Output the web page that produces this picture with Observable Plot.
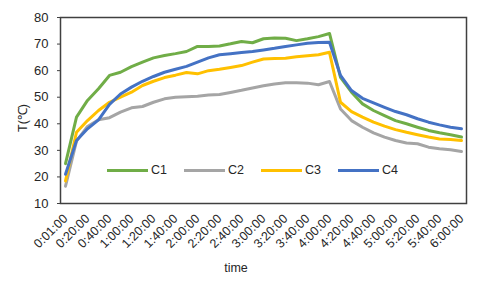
<!DOCTYPE html>
<html>
<head>
<meta charset="utf-8">
<script src="https://cdn.jsdelivr.net/npm/d3@7"></script>
<script src="https://cdn.jsdelivr.net/npm/@observablehq/plot@0.6"></script>
<style>
  body { margin: 0; background: #fff; }
  #wrap { position: relative; width: 480px; height: 281px; font-family: "Liberation Sans", Arial, sans-serif; color: #262626; }
  .lg { position: absolute; top: 162px; left: 107px; display: flex; font-size: 12.5px; }
  .it { width: 77px; display: flex; align-items: center; height: 16px; }
  .sw { width: 41px; height: 3px; margin-right: 3px; }
  .yl { position: absolute; left: 22px; top: 118px; transform: translate(-50%,-50%) rotate(-90deg); font-size: 12.5px; white-space: nowrap; }
  .xl { position: absolute; left: 236px; top: 268px; transform: translate(-50%,-50%); font-size: 12.5px; }
</style>
</head>
<body>
<div id="wrap"></div>
<script>
const times = ["0:01:00","0:10:00","0:20:00","0:30:00","0:40:00","0:50:00","1:00:00","1:10:00","1:20:00","1:30:00",
  "1:40:00","1:50:00","2:00:00","2:10:00","2:20:00","2:30:00","2:40:00","2:50:00","3:00:00","3:10:00",
  "3:20:00","3:30:00","3:40:00","3:50:00","4:00:00","4:10:00","4:20:00","4:30:00","4:40:00","4:50:00",
  "5:00:00","5:10:00","5:20:00","5:30:00","5:40:00","5:50:00","6:00:00"];
const xTicks = ["0:01:00","0:20:00","0:40:00","1:00:00","1:20:00","1:40:00","2:00:00","2:20:00","2:40:00","3:00:00",
  "3:20:00","3:40:00","4:00:00","4:20:00","4:40:00","5:00:00","5:20:00","5:40:00","6:00:00"];
const yTicks = [10,20,30,40,50,60,70,80];
const seriesNames = ["C1","C2","C3","C4"];
const seriesColors = ["#70AD47","#A5A5A5","#FFC000","#4472C4"];
const C1 = [25,42.5,48.8,53.2,58.2,59.4,61.5,63.2,64.8,65.7,66.4,67.2,69.1,69.1,69.3,70.1,71,70.5,72,72.3,72.2,71.3,72,72.8,74,
  57.5,51.9,47.5,45,43.1,41.2,40,38.7,37.5,36.6,35.9,35];
const C2 = [16.5,33.5,39,41.5,42.3,44.4,46,46.5,48.1,49.4,50,50.2,50.4,50.8,51,51.8,52.6,53.5,54.3,55,55.4,55.4,55.3,54.7,55.9,
  45.6,41.2,38.7,36.6,35,33.7,32.8,32.5,31.2,30.6,30.2,29.6];
const C3 = [18.5,36.8,41.2,45,48.1,50,51.9,54.4,56,57.4,58.3,59.3,58.8,60,60.5,61.2,61.9,63.2,64.4,64.6,64.7,65.2,65.6,66,66.9,
  48.1,44.6,42.5,40.6,39.1,37.8,36.8,35.9,35,34.3,34.1,33.7];
const C4 = [21,33.7,38.1,41.5,47.3,51.2,53.8,56,57.8,59.4,60.5,61.6,63.2,64.8,66,66.4,66.8,67.2,67.8,68.4,69.1,69.7,70.3,70.6,70.7,
  58.2,52.5,49.6,47.9,46.2,44.6,43.4,41.9,40.6,39.6,38.7,38.1];
const seriesValues = [C1, C2, C3, C4];

const data = seriesNames.flatMap((s, k) => times.map((t, i) => ({time: t, series: s, value: seriesValues[k][i]})));

const chart = Plot.plot({
  width: 480, height: 281,
  marginLeft: 60, marginRight: 14, marginTop: 17, marginBottom: 78,
  style: {fontFamily: "'Liberation Sans', Arial, sans-serif", fontSize: "12px", color: "#262626", background: "#fff"},
  x: {type: "point", domain: times, padding: 0},
  y: {domain: [10, 80]},
  color: {domain: seriesNames, range: seriesColors},
  marks: [
    Plot.axisY({ticks: yTicks, tickSize: 3, tickPadding: 9, fontSize: 13, label: null, stroke: "#404040"}),
    Plot.axisX({ticks: xTicks, tickRotate: -45, tickSize: 0, tickPadding: 13, fontSize: 12.5, label: null}),
    Plot.lineY(data, {x: "time", y: "value", z: "series", stroke: "series", strokeWidth: 3, strokeLinejoin: "round"}),
    Plot.frame({stroke: "#404040", strokeWidth: 1.5})
  ]
});
const wrap = document.getElementById("wrap");
wrap.appendChild(chart);

const lg = document.createElement("div");
lg.className = "lg";
seriesNames.forEach((s, k) => {
  const it = document.createElement("div");
  it.className = "it";
  const sw = document.createElement("div");
  sw.className = "sw";
  sw.style.background = seriesColors[k];
  const tx = document.createElement("span");
  tx.textContent = s;
  it.appendChild(sw); it.appendChild(tx);
  lg.appendChild(it);
});
wrap.appendChild(lg);

const yl = document.createElement("div");
yl.className = "yl"; yl.textContent = "T(℃)";
wrap.appendChild(yl);
const xl = document.createElement("div");
xl.className = "xl"; xl.textContent = "time";
wrap.appendChild(xl);
</script>
</body>
</html>
